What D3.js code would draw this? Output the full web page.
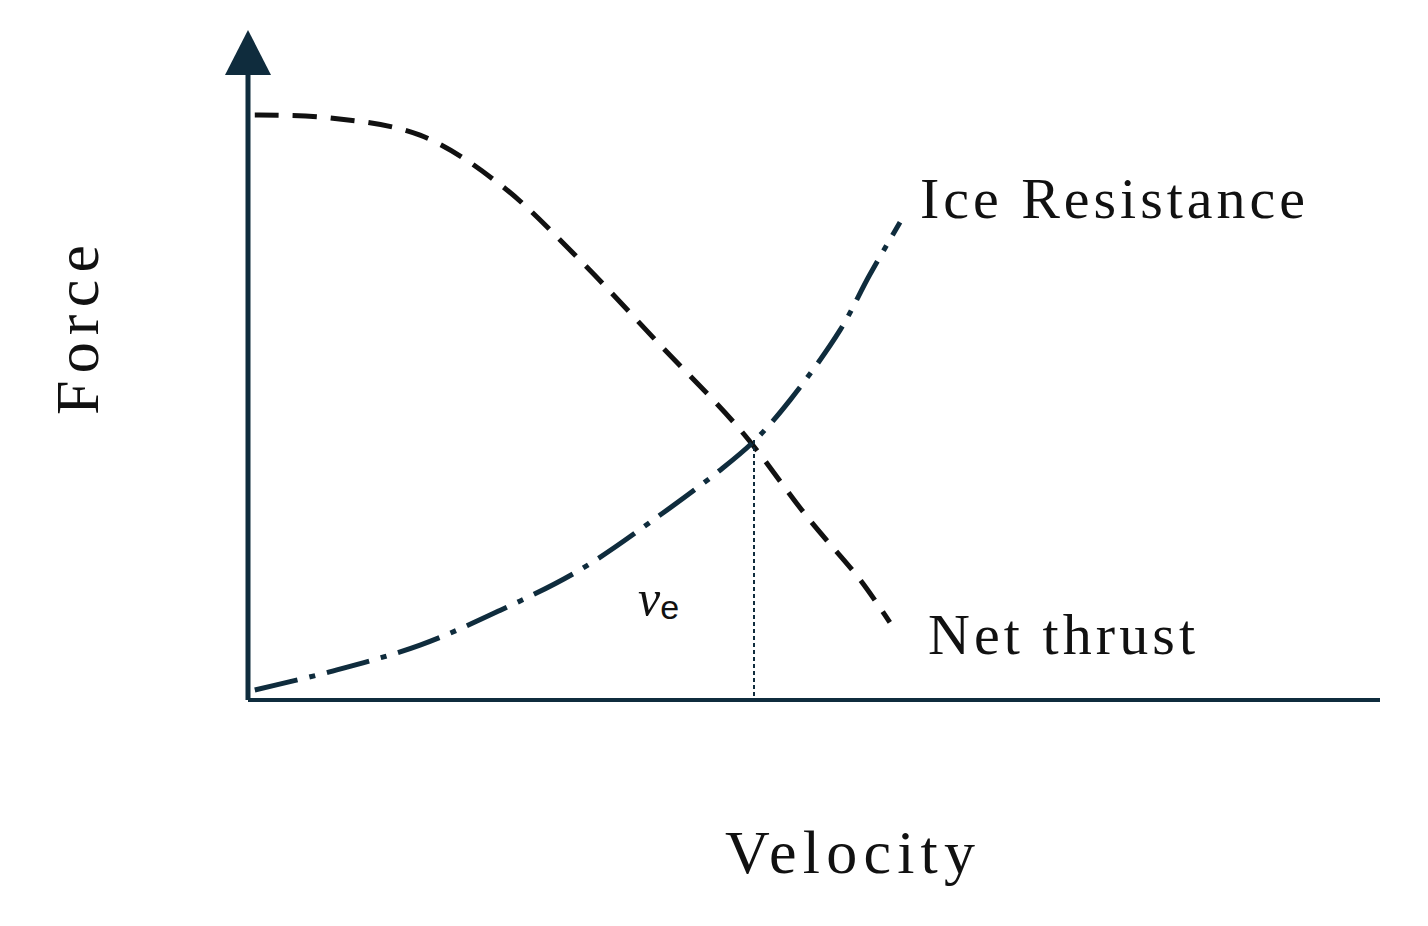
<!DOCTYPE html>
<html><head><meta charset="utf-8">
<script src="https://cdn.jsdelivr.net/npm/d3@7"></script>
<style>body{margin:0;background:#fff}</style>
</head><body>
<script>
var thrustX = [0.6, 7.2, 15.2, 22.3, 29.3, 36.4, 43.5, 49.6, 54.1, 56.7];
var thrustY = [87.3, 86.9, 84.3, 76.9, 65.7, 53.0, 40.3, 26.9, 17.9, 11.6];
var iceX = [0.6, 7.2, 15.2, 22.3, 29.3, 36.4, 41.7, 44.8, 47.9, 52.3, 54.9, 57.6];
var iceY = [1.5, 4.2, 8.2, 13.4, 19.4, 27.6, 34.3, 38.8, 44.8, 55.2, 63.4, 71.3];
var veX = 44.7, veY = 38.8;

var color = "#0f2c3d";
var svg = d3.select("body").append("svg").attr("width", 1428).attr("height", 926);
var x = d3.scaleLinear().domain([0, 100]).range([248, 1380]);
var y = d3.scaleLinear().domain([0, 100]).range([700, 30]);

// axes
svg.append("line").attr("x1", x(0)).attr("x2", x(100)).attr("y1", y(0)).attr("y2", y(0))
  .attr("stroke", color).attr("stroke-width", 4);
svg.append("line").attr("x1", x(0)).attr("x2", x(0)).attr("y1", y(0)).attr("y2", y(94))
  .attr("stroke", color).attr("stroke-width", 5);
svg.append("path").attr("d", `M${x(0)},${y(100)} L${x(0) - 23},${y(93.3)} L${x(0) + 23},${y(93.3)} Z`)
  .attr("fill", color);

var line = d3.line().curve(d3.curveCatmullRom).x(d => x(d[0])).y(d => y(d[1]));

svg.append("path").datum(d3.zip(thrustX, thrustY)).attr("d", line)
  .attr("fill", "none").attr("stroke", "#111").attr("stroke-width", 5)
  .attr("stroke-dasharray", "24,14");
svg.append("path").datum(d3.zip(iceX, iceY)).attr("d", line)
  .attr("fill", "none").attr("stroke", color).attr("stroke-width", 5)
  .attr("stroke-dasharray", "44,12,6,12");

svg.append("line").attr("x1", x(veX)).attr("x2", x(veX)).attr("y1", y(veY)).attr("y2", y(0))
  .attr("stroke", color).attr("stroke-width", 2).attr("stroke-dasharray", "4,3");

var serif = "Liberation Serif, Times New Roman, serif";
svg.append("text").attr("x", 920).attr("y", 218).attr("font-family", serif).attr("font-size", 58)
  .attr("textLength", 385).attr("lengthAdjust", "spacing")
  .attr("fill", "#111").text("Ice Resistance");
svg.append("text").attr("x", 928).attr("y", 654).attr("font-family", serif).attr("font-size", 58)
  .attr("textLength", 267).attr("lengthAdjust", "spacing")
  .attr("fill", "#111").text("Net thrust");
svg.append("text").attr("x", 725).attr("y", 873).attr("font-family", serif)
  .attr("font-size", 62).attr("textLength", 250).attr("lengthAdjust", "spacing")
  .attr("fill", "#111").text("Velocity");
svg.append("text").attr("transform", "translate(98,415) rotate(-90)")
  .attr("font-family", serif).attr("font-size", 62).attr("textLength", 170).attr("lengthAdjust", "spacing")
  .attr("fill", "#111").text("Force");
var ve = svg.append("text").attr("x", 638).attr("y", 615).attr("fill", "#111");
ve.append("tspan").attr("font-family", serif).attr("font-style", "italic").attr("font-size", 50).text("v");
ve.append("tspan").attr("font-family", "Liberation Sans, Arial, sans-serif").attr("font-size", 34).attr("dy", 4).text("e");
</script>
</body></html>
